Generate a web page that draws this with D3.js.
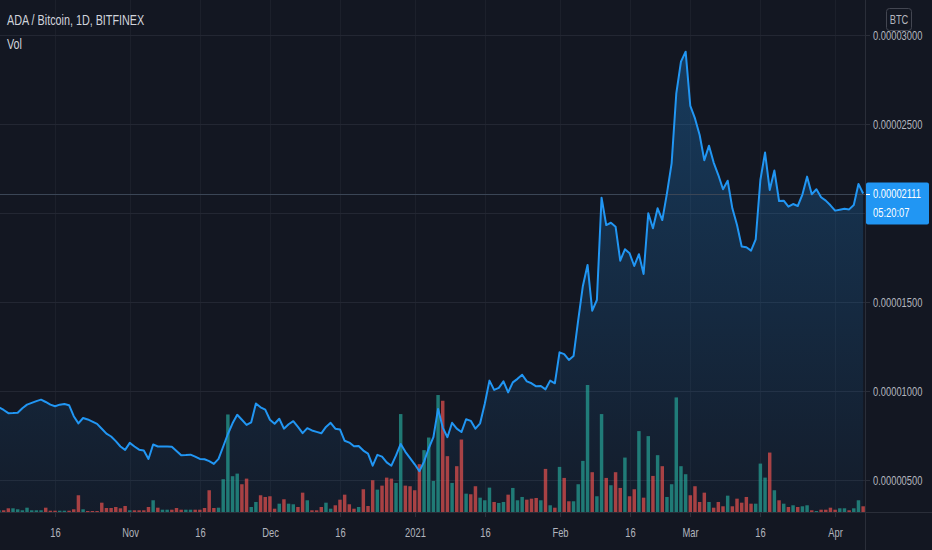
<!DOCTYPE html>
<html lang="en">
<head>
<meta charset="utf-8">
<title>ADA / Bitcoin, 1D, BITFINEX</title>
<script src="https://cdn.jsdelivr.net/npm/d3@7"></script>
<style>
  html, body { margin: 0; padding: 0; background: #131722; overflow: hidden; }
  svg { display: block; }
  text { font-family: "Liberation Sans", Arial, sans-serif; }
</style>
</head>
<body>
<div id="chart"></div>
<script>
// daily closes, in satoshi (1e-8 BTC), starting 2020-10-04
var startDate = "2020-10-04";
var closeSats = [
  910, 895, 877, 878, 880, 905, 925, 935, 945, 953,
  940, 925, 916, 925, 929, 922, 860, 820, 850, 842,
  830, 817, 790, 762, 746, 720, 690, 671, 710, 690,
  672, 667, 620, 701, 690, 690, 690, 689, 665, 641,
  642, 644, 633, 620, 618, 608, 592, 620, 690, 760,
  820, 868, 840, 811, 826, 931, 910, 897, 840, 818,
  846, 790, 815, 832, 800, 765, 793, 780, 772, 764,
  800, 823, 790, 786, 722, 712, 691, 693, 667, 650,
  582, 643, 633, 601, 582, 640, 704, 660, 625, 590,
  551, 605, 680, 742, 901, 796, 742, 823, 790, 771,
  843, 834, 790, 820, 930, 1060, 1008, 1019, 1056, 994,
  1050, 1070, 1093, 1056, 1045, 1028, 1030, 1011, 1060, 1045,
  1219, 1209, 1176, 1198, 1400, 1592, 1710, 1453, 1513, 2088,
  1934, 1947, 1925, 1734, 1798, 1775, 1704, 1770, 1659, 2000,
  1916, 2028, 1962, 2112, 2281, 2674, 2852, 2908, 2603, 2533,
  2440, 2298, 2380, 2285, 2215, 2135, 2183, 2028, 1934, 1813,
  1809, 1790, 1854, 2187, 2341, 2131, 2240, 2069, 2071, 2037,
  2052, 2041, 2105, 2206, 2107, 2135, 2090, 2071, 2045, 2015,
  2020, 2025, 2022, 2047, 2165, 2111
];
// daily volume (relative units)
var volume = [
  17, 17, 37, 37, 27, 17, 43, 17, 17, 17,
  43, 13, 13, 13, 13, 13, 27, 167, 27, 10,
  10, 10, 93, 40, 40, 50, 37, 60, 17, 17,
  17, 17, 50, 117, 43, 23, 23, 23, 40, 23,
  23, 23, 23, 23, 40, 217, 40, 43, 327, 973,
  357, 383, 277, 333, 50, 100, 167, 150, 157, 33,
  83, 127, 83, 77, 50, 193, 117, 17, 17, 50,
  93, 33, 67, 123, 173, 77, 33, 50, 227, 60,
  317, 223, 263, 343, 333, 290, 977, 263, 257, 217,
  477, 617, 743, 310, 1167, 1110, 557, 290, 457, 723,
  183, 177, 257, 143, 117, 243, 100, 90, 100, 173,
  240, 117, 150, 123, 133, 140, 117, 430, 67, 43,
  450, 340, 107, 107, 277, 510, 1267, 397, 157, 977,
  340, 267, 397, 240, 543, 157, 227, 807, 143, 757,
  360, 567, 457, 150, 277, 1143, 457, 377, 167, 257,
  100, 193, 100, 43, 100, 57, 163, 57, 133, 93,
  150, 83, 83, 483, 343, 593, 217, 117, 83, 50,
  67, 50, 57, 67, 17, 10, 23, 23, 43, 23,
  37, 37, 17, 37, 117, 57
];
var priceTicks = [500, 1000, 1500, 2000, 2500, 3000];
var timeTicks = ["2020-10-16", "2020-11-01", "2020-11-16", "2020-12-01", "2020-12-16", "2021-01-01",
                 "2021-01-16", "2021-02-01", "2021-02-16", "2021-03-01", "2021-03-16", "2021-04-01"];
var timeLabels = ["16", "Nov", "16", "Dec", "16", "2021", "16", "Feb", "16", "Mar", "16", "Apr"];
var pairTitle = "ADA / Bitcoin, 1D, BITFINEX";
var volTitle = "Vol";
var currency = "BTC";
var countdown = "05:20:07";

var w = 932, h = 550;
var paneW = 865, paneH = 512;
var barStep = 4.671;
var bg = "#131722";
var squeeze = 0.72;   // the snapshot's type is narrow
var narrow = "scale(" + squeeze + ",1)";

var parseDay = d3.utcParse("%Y-%m-%d");
var day0 = parseDay(startDate);
var n = closeSats.length;
var data = closeSats.map(function(c, i) {
  return {
    date: d3.utcDay.offset(day0, i),
    close: c,
    vol: volume[i],
    up: i == 0 ? true : c >= closeSats[i - 1]
  };
});

var xScale = d3.scaleUtc()
  .domain([data[0].date, data[n - 1].date])
  .range([-1, -1 + barStep * (n - 1)]);

var yScale = d3.scaleLinear()
  .domain([500, 3000])
  .range([480.3, 35.3]);

var volScale = d3.scaleLinear()
  .domain([0, d3.max(volume)])
  .range([paneH, paneH - 127]);

var fmt = function(v) { return (v / 1e8).toFixed(8); };

var svg = d3.select("#chart").append("svg")
  .attr("width", w)
  .attr("height", h);

svg.append("rect").attr("width", w).attr("height", h).attr("fill", bg);

var defs = svg.append("defs");
defs.append("clipPath").attr("id", "pane")
  .append("rect").attr("width", paneW).attr("height", paneH);

var grad = defs.append("linearGradient").attr("id", "areaGrad")
  .attr("gradientUnits", "userSpaceOnUse")
  .attr("x1", 0).attr("x2", 0)
  .attr("y1", yScale(d3.max(closeSats))).attr("y2", paneH);
grad.append("stop").attr("offset", 0).attr("stop-color", "#2196f3").attr("stop-opacity", 0.28);
grad.append("stop").attr("offset", 1).attr("stop-color", "#2196f3").attr("stop-opacity", 0.04);

var pane = svg.append("g").attr("clip-path", "url(#pane)");

// grid
pane.selectAll("line.vgrid")
  .data(timeTicks)
  .enter()
  .append("line")
  .attr("class", "vgrid")
  .attr("x1", function(d) { return Math.round(xScale(parseDay(d))) + 0.5; })
  .attr("x2", function(d) { return Math.round(xScale(parseDay(d))) + 0.5; })
  .attr("y1", 0).attr("y2", paneH)
  .attr("stroke", "#1c202b");

pane.selectAll("line.hgrid")
  .data(priceTicks)
  .enter()
  .append("line")
  .attr("class", "hgrid")
  .attr("x1", 0).attr("x2", paneW)
  .attr("y1", function(d) { return Math.round(yScale(d)) + 0.5; })
  .attr("y2", function(d) { return Math.round(yScale(d)) + 0.5; })
  .attr("stroke", "#232733");

// area under the line
var area = d3.area()
  .x(function(d) { return xScale(d.date); })
  .y0(paneH)
  .y1(function(d) { return yScale(d.close); });

pane.append("path")
  .datum(data)
  .attr("d", area)
  .attr("fill", "url(#areaGrad)");

// volume
var bw = barStep * 0.74;
pane.selectAll("rect.vol")
  .data(data)
  .enter()
  .append("rect")
  .attr("class", "vol")
  .attr("x", function(d) { return xScale(d.date) - bw / 2; })
  .attr("y", function(d) { return volScale(d.vol); })
  .attr("width", bw)
  .attr("height", function(d) { return paneH - volScale(d.vol); })
  .attr("fill", function(d) { return d.up ? "#26a69a" : "#ef5350"; })
  .attr("fill-opacity", 0.68);

// last price line
var last = closeSats[n - 1];
var ly = yScale(last);
pane.append("line")
  .attr("x1", 0).attr("x2", paneW)
  .attr("y1", Math.round(ly) + 0.5)
  .attr("y2", Math.round(ly) + 0.5)
  .attr("stroke", "#3b4656");

// price line
var line = d3.line()
  .x(function(d) { return xScale(d.date); })
  .y(function(d) { return yScale(d.close); });

pane.append("path")
  .datum(data)
  .attr("d", line)
  .attr("fill", "none")
  .attr("stroke", "#2196f3")
  .attr("stroke-width", 2)
  .attr("stroke-linejoin", "round");

// axis borders
svg.append("line")
  .attr("x1", paneW + 0.5).attr("x2", paneW + 0.5)
  .attr("y1", 0).attr("y2", h)
  .attr("stroke", "#2a2e39");
svg.append("line")
  .attr("x1", 0).attr("x2", w)
  .attr("y1", paneH + 0.5).attr("y2", paneH + 0.5)
  .attr("stroke", "#2a2e39");

// time axis
var tg = svg.selectAll("g.tick-x")
  .data(timeTicks)
  .enter()
  .append("g")
  .attr("class", "tick-x")
  .attr("transform", function(d) { return "translate(" + (Math.round(xScale(parseDay(d))) + 0.5) + "," + paneH + ")"; });
tg.append("line").attr("y1", 1).attr("y2", 5).attr("stroke", "#2a2e39");
tg.append("text")
  .attr("y", 25.5)
  .attr("transform", narrow)
  .attr("text-anchor", "middle")
  .attr("fill", "#b2b5be")
  .attr("font-size", 13)
  .text(function(d, i) { return timeLabels[i]; });

// price axis (the label hidden behind the last-price box is left out)
var pg = svg.selectAll("g.tick-y")
  .data(priceTicks)
  .enter()
  .append("g")
  .attr("class", "tick-y")
  .attr("transform", function(d) { return "translate(" + paneW + "," + (Math.round(yScale(d)) + 0.5) + ")"; });
pg.append("line").attr("x1", 1).attr("x2", 5).attr("stroke", "#2a2e39");
pg.filter(function(d) { return Math.abs(yScale(d) - ly) > 32; })
  .append("text")
  .attr("x", 8 / squeeze)
  .attr("dy", "0.35em")
  .attr("transform", narrow)
  .attr("fill", "#b2b5be")
  .attr("font-size", 13)
  .text(function(d) { return fmt(d); });

// currency box
svg.append("rect")
  .attr("x", 886.5).attr("y", 8.5)
  .attr("width", 25).attr("height", 22)
  .attr("rx", 3)
  .attr("fill", bg)
  .attr("stroke", "#434651");
svg.append("text")
  .attr("transform", "translate(899,24) " + narrow)
  .attr("text-anchor", "middle")
  .attr("fill", "#b2b5be")
  .attr("font-size", 13)
  .text(currency);

// last price label
svg.append("rect")
  .attr("x", paneW + 1).attr("y", ly - 11)
  .attr("width", 63).attr("height", 42)
  .attr("rx", 2)
  .attr("fill", "#2196f3");
svg.append("line")
  .attr("x1", paneW + 1).attr("x2", paneW + 5)
  .attr("y1", Math.round(ly) + 0.5).attr("y2", Math.round(ly) + 0.5)
  .attr("stroke", "#ffffff");
svg.append("text")
  .attr("transform", "translate(" + (paneW + 8) + "," + ly + ") " + narrow)
  .attr("dy", "0.35em")
  .attr("fill", "#ffffff")
  .attr("font-size", 13)
  .text(fmt(last));
svg.append("text")
  .attr("transform", "translate(" + (paneW + 8) + "," + (ly + 19) + ") " + narrow)
  .attr("dy", "0.35em")
  .attr("fill", "#ffffff")
  .attr("font-size", 13)
  .text(countdown);

// legend
svg.append("text")
  .attr("transform", "translate(7,25) " + narrow)
  .attr("fill", "#d1d4dc")
  .attr("font-size", 15)
  .text(pairTitle);
svg.append("text")
  .attr("transform", "translate(7,49) " + narrow)
  .attr("fill", "#d1d4dc")
  .attr("font-size", 15)
  .text(volTitle);
</script>
</body>
</html>
